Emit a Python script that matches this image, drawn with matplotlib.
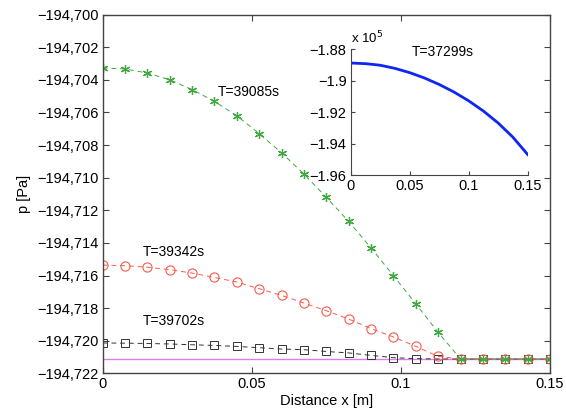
import numpy as np
import matplotlib
matplotlib.use("Agg")
import matplotlib.pyplot as plt
from matplotlib.ticker import FuncFormatter

plt.rcParams['font.family'] = ['Liberation Sans', 'DejaVu Sans']

# distance along the domain [m], 21 nodes
x = [0.0, 0.0075, 0.015, 0.0225, 0.03, 0.0375, 0.045, 0.0525, 0.06, 0.0675,
     0.075, 0.0825, 0.09, 0.0975, 0.105, 0.1125, 0.12, 0.1275, 0.135, 0.1425, 0.15]

p_39085 = [-194703.27, -194703.33, -194703.58, -194703.99, -194704.60, -194705.32,
           -194706.20, -194707.30, -194708.48, -194709.77, -194711.21, -194712.68,
           -194714.31, -194716.01, -194717.73, -194719.49, -194721.12, -194721.12,
           -194721.12, -194721.12, -194721.12]
p_39342 = [-194715.36, -194715.40, -194715.49, -194715.64, -194715.85, -194716.12,
           -194716.40, -194716.81, -194717.22, -194717.69, -194718.16, -194718.67,
           -194719.26, -194719.77, -194720.35, -194720.96, -194721.12, -194721.12,
           -194721.12, -194721.12, -194721.12]
p_39702 = [-194720.14, -194720.15, -194720.17, -194720.20, -194720.25, -194720.29,
           -194720.35, -194720.43, -194720.51, -194720.55, -194720.66, -194720.75,
           -194720.90, -194721.04, -194721.10, -194721.12, -194721.12, -194721.12,
           -194721.12, -194721.12, -194721.12]
p_floor = -194721.12

# inset curve, T=37299s
x_in = [0.0, 0.0125, 0.025, 0.0375, 0.05, 0.0625, 0.075, 0.0875, 0.1,
        0.1125, 0.125, 0.1375, 0.15]
p_in = [-188890, -188930, -189030, -189230, -189500, -189840, -190250, -190730,
        -191290, -191940, -192700, -193600, -194700]

labels = ["T=39085s", "T=39342s", "T=39702s", "T=37299s"]

fig = plt.figure(figsize=(5.66, 4.16), dpi=100)
ax = fig.add_axes([0.1814, 0.1026, 0.7903, 0.8621])

green = (0.25, 0.66, 0.25)
red = (0.96, 0.36, 0.30)
dark = (0.2, 0.2, 0.2)

ax.plot([x[0], x[-1]], [p_floor, p_floor], color=(0.85, 0.5, 0.9), lw=1.0, zorder=1)
ax.plot(x, p_39702, ls=(0, (5, 4)), color=dark, lw=0.7, marker='s', ms=5.2,
        mfc='none', mec=dark, mew=0.7)
ax.plot(x, p_39342, ls=(0, (5, 4)), color=red, lw=0.7, marker='o', ms=6.6,
        mfc='none', mec=red, mew=0.8)
ax.plot(x, p_39085, ls=(0, (5, 4)), color=green, lw=0.7, marker=(6, 2, 0), ms=6.5,
        mec=green, mew=0.9)

ax.text(0.0387, -194704.72, labels[0], fontsize=10, va='center', ha='left')
ax.text(0.0136, -194714.56, labels[1], fontsize=10, va='center', ha='left')
ax.text(0.0133, -194718.82, labels[2], fontsize=10, va='center', ha='left')

ax.set_xlim(0, 0.15)
ax.set_ylim(-194722, -194700)
ax.set_xticks([0, 0.05, 0.1, 0.15])
ax.set_xticklabels(["0", "0.05", "0.1", "0.15"])
ax.set_yticks(np.arange(-194722, -194699, 2))
ax.yaxis.set_major_formatter(FuncFormatter(lambda v, pos: f"{v:,.0f}".replace('-', '\u2212')))
ax.tick_params(direction='in', top=True, right=True, labelsize=10.5, length=4,
               color='#444444', pad=3)
for s in ax.spines.values():
    s.set_color('#444444')
    s.set_linewidth(1.0)
ax.set_xlabel("Distance x [m]", fontsize=10.5, labelpad=2)
ax.set_ylabel("p [Pa]", fontsize=10.5, labelpad=4)

# inset
axi = fig.add_axes([0.6196, 0.5793, 0.3127, 0.3029])
axi.plot(x_in, np.array(p_in) / 1e5, color=(0.05, 0.15, 0.95), lw=2.0)
axi.set_xlim(0, 0.15)
axi.set_ylim(-1.96, -1.88)
axi.set_xticks([0, 0.05, 0.1, 0.15])
axi.set_xticklabels(["0", "0.05", "0.1", "0.15"])
axi.set_yticks([-1.96, -1.94, -1.92, -1.9, -1.88])
axi.set_yticklabels(["\u22121.96", "\u22121.94", "\u22121.92", "\u22121.9", "\u22121.88"])
axi.spines['top'].set_visible(False)
axi.spines['right'].set_visible(False)
for s in ['left', 'bottom']:
    axi.spines[s].set_color('#444444')
axi.tick_params(direction='in', labelsize=10.5, length=3, color='#444444', pad=3)
axi.text(0.0517, -1.882, labels[3], fontsize=10, va='center', ha='left')
axi.text(0.0, 1.02, "x 10$^5$", transform=axi.transAxes, fontsize=9.5,
         va='bottom', ha='left')

fig.savefig("out.png", dpi=100)
